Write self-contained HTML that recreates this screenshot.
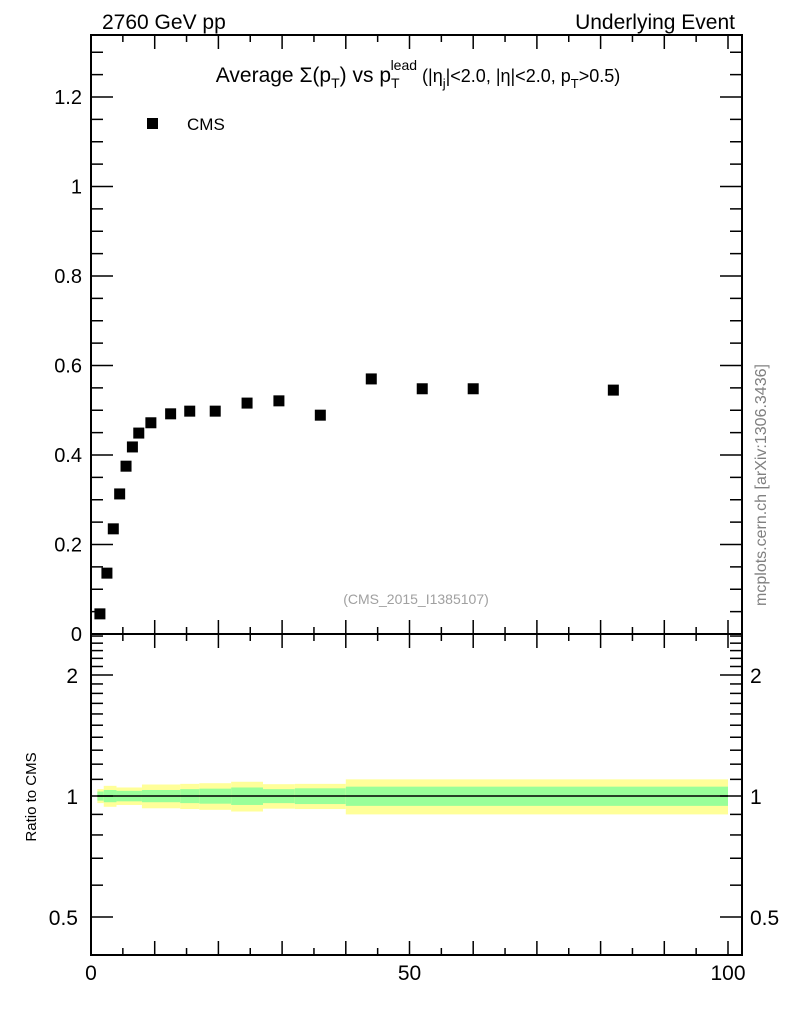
<!DOCTYPE html>
<html><head><meta charset="utf-8"><style>
body{margin:0;background:#fff;}
svg{display:block;font-family:"Liberation Sans",sans-serif;}
</style></head><body>
<svg id="c" width="786" height="1024" viewBox="0 0 786 1024" xmlns="http://www.w3.org/2000/svg">
<text x="102" y="29" font-size="21">2760 GeV pp</text>
<text x="735" y="29" font-size="21" text-anchor="end">Underlying Event</text>
<text x="418" y="82" font-size="21" text-anchor="middle">Average Σ(p<tspan font-size="14" dy="6">T</tspan><tspan dy="-6">) vs p</tspan><tspan font-size="14" dy="6">T</tspan><tspan font-size="14" dx="-9" dy="-18">lead</tspan><tspan font-size="18" dy="12"> (|η</tspan><tspan font-size="13" dy="6">j</tspan><tspan font-size="18" dy="-6">|&lt;2.0, |η|&lt;2.0, p</tspan><tspan font-size="13" dy="6">T</tspan><tspan font-size="18" dy="-6">&gt;0.5)</tspan></text>
<rect x="147" y="118" width="11" height="11" fill="#000"/>
<text x="187" y="130" font-size="17">CMS</text>
<text x="416" y="604" font-size="14" fill="#a0a0a0" text-anchor="middle">(CMS_2015_I1385107)</text>
<text transform="translate(766,485) rotate(-90)" font-size="16" fill="#808080" text-anchor="middle">mcplots.cern.ch [arXiv:1306.3436]</text>
<text transform="translate(36,797) rotate(-90)" font-size="15" text-anchor="middle">Ratio to CMS</text>
<g id="bands"></g><g id="axes"></g><g id="pts"></g>
</svg>
<script>
const xVals=[1.4,2.5,3.5,4.5,5.5,6.5,7.5,9.4,12.5,15.5,19.5,24.5,29.5,36,44,52,60,82];
const yVals=[0.045,0.136,0.235,0.313,0.375,0.418,0.449,0.472,0.492,0.498,0.498,0.516,0.521,0.489,0.57,0.548,0.548,0.545];
const binEdges=[1,2,4,8,14,17,22,27,32,40,100];
const yellowErr=[0.04,0.06,0.05,0.068,0.072,0.076,0.085,0.07,0.072,0.1];
const greenErr=[0.026,0.035,0.03,0.035,0.04,0.043,0.05,0.04,0.045,0.055];
const mainTicks=["0.2","0.4","0.6","0.8","1","1.2"];
const ratioTicks=[0.5,1,2];
const xTicks=[0,50,100];
const NS="http://www.w3.org/2000/svg";
const L=91,R=742,T=35,MB=634,RB=955;
const sx=v=>91+v*6.37;
const sy=v=>634-v*447.5;
const sr=v=>796-Math.log2(v)*121;
function mk(tag,attrs,parent){const e=document.createElementNS(NS,tag);for(const k in attrs)e.setAttribute(k,attrs[k]);document.getElementById(parent).appendChild(e);return e;}
for(let i=0;i<binEdges.length-1;i++){
 const x1=sx(binEdges[i]),x2=sx(binEdges[i+1]);
 const y=mk('rect',{x:x1,y:sr(1+yellowErr[i]),width:x2-x1,height:sr(1-yellowErr[i])-sr(1+yellowErr[i]),fill:'#ffff99'},'bands');
 
 
 const g=mk('rect',{x:x1,y:sr(1+greenErr[i]),width:x2-x1,height:sr(1-greenErr[i])-sr(1+greenErr[i]),fill:'#99ff99'},'bands');
 
 
}
const ref=mk('line',{x1:sx(1),x2:sx(100),y1:sr(1),y2:sr(1),stroke:'#000','stroke-width':1.5},'bands');


for(const [t,b,n] of [[T,MB,'main-frame'],[MB,RB,'ratio-frame']]){
 const f=mk('rect',{x:L,y:t,width:R-L,height:b-t,fill:'none',stroke:'#000','stroke-width':2},'axes');
 
 
}
for(let v=0;v<=100;v+=5){
 const len=v%10===0?14:7,x=sx(v);
 for(const [yb,dir] of [[T,1],[MB,-1],[MB,1],[RB,-1]]){
  mk('line',{x1:x,x2:x,y1:yb,y2:yb+dir*len,stroke:'#000','stroke-width':1.5},'axes');
 }
}
xTicks.forEach(v=>{const t=mk('text',{x:sx(v),y:980,'font-size':21,'text-anchor':'middle'},'axes');t.textContent=v;
 
 });
for(let k=1;k<=26;k++){const v=k*0.05,y=sy(v);if(y<T)break;const len=k%4===0?22:12;
 mk('line',{x1:L,x2:L+len,y1:y,y2:y,stroke:'#000','stroke-width':1.5},'axes');
 mk('line',{x1:R,x2:R-len,y1:y,y2:y,stroke:'#000','stroke-width':1.5},'axes');}
mainTicks.forEach(s=>{const t=mk('text',{x:82,y:sy(+s)+7,'font-size':20,'text-anchor':'end'},'axes');t.textContent=s;
 
 });
const z=mk('text',{x:82,y:641,'font-size':20,'text-anchor':'end'},'axes');z.textContent='0';


for(let k=4;k<=25;k++){const v=k/10,y=sr(v);if(y<MB||y>RB)continue;const len=(k===5||k===10||k===20)?22:12;
 mk('line',{x1:L,x2:L+len,y1:y,y2:y,stroke:'#000','stroke-width':1.5},'axes');
 mk('line',{x1:R,x2:R-len,y1:y,y2:y,stroke:'#000','stroke-width':1.5},'axes');}
ratioTicks.forEach(v=>{
 const a=mk('text',{x:78,y:sr(v)+8,'font-size':21,'text-anchor':'end'},'axes');a.textContent=v;
 
 
 const b=mk('text',{x:750,y:sr(v)+8,'font-size':21},'axes');b.textContent=v;
 
 });
xVals.forEach((xv,i)=>{const p=mk('rect',{x:sx(xv)-5.5,y:sy(yVals[i])-5.5,width:11,height:11,fill:'#000'},'pts');
 
 });
</script>
</body></html>
